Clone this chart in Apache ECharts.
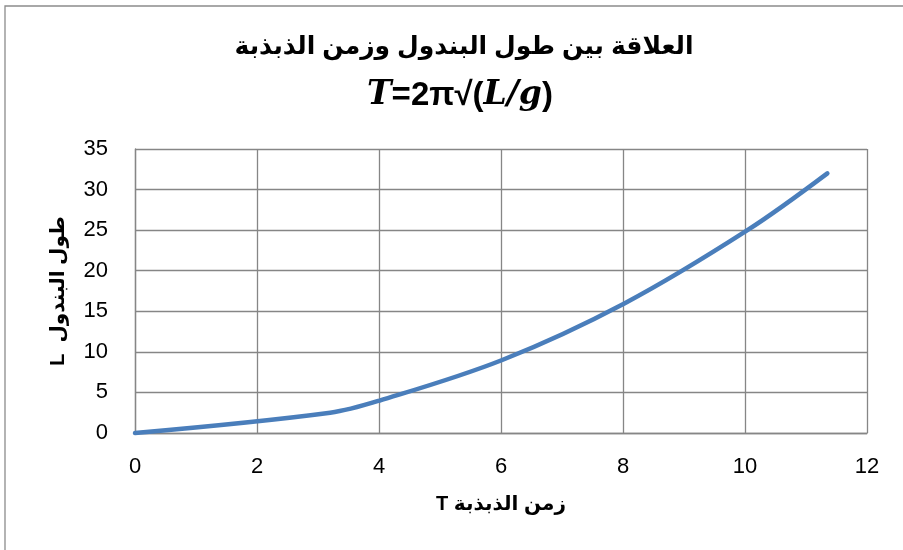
<!DOCTYPE html>
<html>
<head>
<meta charset="utf-8">
<script src="https://cdn.jsdelivr.net/npm/echarts@6/dist/echarts.min.js"></script>
<style>
  html, body { margin: 0; padding: 0; background: #ffffff; }
  #chart { width: 903px; height: 550px; }
</style>
</head>
<body>
<div id="chart"></div>
<script>
// Period T (s) against pendulum length L
const periodT = [0, 3.2, 4.01, 6.02, 8.03, 10.04, 11.35];
const lengthL = [0, 2.5, 4, 9, 16, 25, 32];

const xTicks = { min: 0, max: 12, interval: 2 };
const yTicks = { min: 0, max: 35, interval: 5 };

const titleLine1 = 'العلاقة بين طول البندول وزمن الذبذبة';
const xAxisName = 'T زمن الذبذبة';
const yAxisName = 'L  طول البندول';

const points = periodT.map((t, i) => [t, lengthL[i]]);

const labelFont = '"Liberation Sans Narrow", "Liberation Sans", sans-serif';
const boldFont = '"Liberation Sans", "DejaVu Sans", sans-serif';
const gridGray = '#868686';

const chart = echarts.init(document.getElementById('chart'), null, { renderer: 'canvas' });

chart.setOption({
  backgroundColor: '#ffffff',
  animation: false,
  graphic: [{
    type: 'rect',
    shape: { x: 5, y: 6, width: 920, height: 570 },
    style: { fill: 'none', stroke: '#8c8c8c', lineWidth: 1.3 },
    silent: true,
    z: -1
  }],
  title: [{
    text: titleLine1,
    left: 459,
    top: 30,
    textAlign: 'center',
    textStyle: { fontFamily: boldFont, fontWeight: 'bold', fontSize: 25, color: '#000' }
  }, {
    text: '{i|T}{b|=2π√(}{i|L/g}{b|)}',
    left: 455,
    top: 74,
    textAlign: 'center',
    textStyle: {
      rich: {
        i: { fontFamily: '"DejaVu Serif", "Liberation Serif", serif', fontStyle: 'italic', fontSize: 33, color: '#000' },
        b: { fontFamily: boldFont, fontWeight: 'bold', fontSize: 33, color: '#000' }
      }
    }
  }],
  grid: { left: 135, right: 36, top: 149, bottom: 117, containLabel: false },
  xAxis: {
    type: 'value',
    min: xTicks.min, max: xTicks.max, interval: xTicks.interval,
    name: xAxisName,
    nameLocation: 'middle',
    nameGap: 61,
    nameTextStyle: { fontFamily: boldFont, fontWeight: 'bold', fontSize: 20, color: '#000' },
    axisLine: { show: true, lineStyle: { color: gridGray, width: 1.3 } },
    axisTick: { show: false },
    axisLabel: { margin: 23, fontFamily: labelFont, fontSize: 22, color: '#000' },
    splitLine: { show: true, lineStyle: { color: gridGray, width: 1.3 } }
  },
  yAxis: {
    type: 'value',
    min: yTicks.min, max: yTicks.max, interval: yTicks.interval,
    name: yAxisName,
    nameLocation: 'middle',
    nameGap: 67,
    nameTextStyle: { fontFamily: boldFont, fontWeight: 'bold', fontSize: 20, color: '#000' },
    axisLine: { show: true, lineStyle: { color: gridGray, width: 1.3 } },
    axisTick: { show: false },
    axisLabel: { margin: 27, fontFamily: labelFont, fontSize: 22, color: '#000' },
    splitLine: { show: true, lineStyle: { color: gridGray, width: 1.3 } }
  },
  series: [{
    type: 'line',
    data: points,
    smooth: 0.35,
    showSymbol: false,
    lineStyle: { color: '#4a7ebb', width: 4.5, cap: 'round', join: 'round' },
    clip: false
  }]
});
</script>
</body>
</html>
